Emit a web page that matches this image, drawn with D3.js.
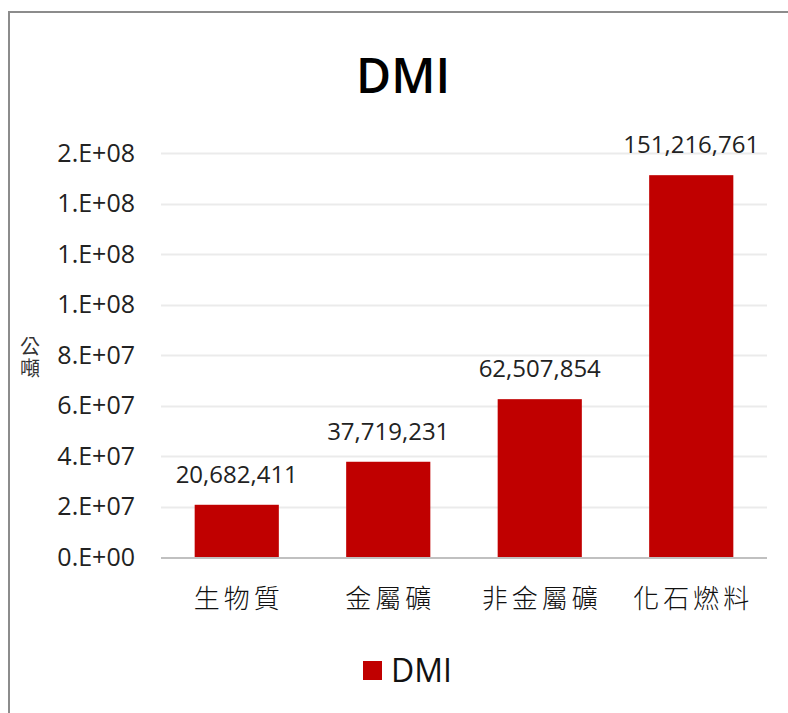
<!DOCTYPE html>
<html>
<head>
<meta charset="utf-8">
<script src="https://cdn.jsdelivr.net/npm/d3@7"></script>
<style>
    body { margin: 0; background: #fff; }
    svg { display: block; }
</style>
</head>
<body>
<div id="chart"></div>
<script>
const categories = ['生物質', '金屬礦', '非金屬礦', '化石燃料'];
const dmiValues = [20682411, 37719231, 62507854, 151216761];
const yTicks = [0, 2e7, 4e7, 6e7, 8e7, 1e8, 1.2e8, 1.4e8, 1.6e8];
const seriesName = 'DMI';
const chartTitle = 'DMI';
const yLabel = '公噸';

const width = 788, height = 713;
const margin = { top: 153, right: 21, bottom: 156, left: 161 };
const barColor = '#c00000';
const latinFont = '"Open Sans", "Noto Sans", sans-serif';

const svg = d3.select('#chart')
    .append('svg')
    .attr('width', width)
    .attr('height', height);

// outer frame (runs past right/bottom edge like the screenshot)
svg.append('rect')
    .attr('x', 9).attr('y', 12)
    .attr('width', width + 20).attr('height', height + 20)
    .attr('fill', 'none')
    .attr('stroke', '#8c8c8c')
    .attr('stroke-width', 2);

const x = d3.scaleBand()
    .domain(categories)
    .range([margin.left, width - margin.right])
    .paddingInner(0.8 / 1.8)
    .paddingOuter(0.4 / 1.8);

const y = d3.scaleLinear()
    .domain([0, 1.6e8])
    .range([height - margin.bottom, margin.top]);

// excel-ish "0.E+00" format (one significant digit)
const fmtExp = v => {
    const e = v === 0 ? 0 : Math.floor(Math.log10(v));
    let m = Math.round(v / Math.pow(10, e)), ee = e;
    if (m >= 10) { m = 1; ee = e + 1; }
    return m + '.E' + (ee < 0 ? '-' : '+') + String(Math.abs(ee)).padStart(2, '0');
};

// gridlines
svg.append('g')
    .selectAll('line')
    .data(yTicks.slice(1))
    .join('line')
    .attr('x1', margin.left).attr('x2', width - margin.right)
    .attr('y1', d => Math.round(y(d)) + 0.5).attr('y2', d => Math.round(y(d)) + 0.5)
    .attr('stroke', '#ebebeb')
    .attr('stroke-width', 2);

// y axis labels
const yAxis = d3.axisLeft(y)
    .tickValues(yTicks)
    .tickFormat(fmtExp)
    .tickSize(0)
    .tickPadding(26);

svg.append('g')
    .attr('transform', `translate(${margin.left},0)`)
    .call(yAxis)
    .call(g => g.select('.domain').remove())
    .selectAll('text')
    .attr('font-family', latinFont)
    .attr('font-size', 25)
    .attr('fill', '#222');

// bars
svg.append('g')
    .selectAll('rect')
    .data(dmiValues)
    .join('rect')
    .attr('x', (d, i) => x(categories[i]))
    .attr('y', d => y(d))
    .attr('width', x.bandwidth())
    .attr('height', d => y(0) - y(d))
    .attr('fill', barColor);

// value labels
svg.append('g')
    .selectAll('text')
    .data(dmiValues)
    .join('text')
    .attr('x', (d, i) => x(categories[i]) + x.bandwidth() / 2)
    .attr('y', d => y(d) - 22)
    .attr('text-anchor', 'middle')
    .attr('font-family', latinFont)
    .attr('font-size', 24)
    .attr('fill', '#222')
    .text(d => d3.format(',')(d));

// x axis line
svg.append('line')
    .attr('x1', margin.left).attr('x2', width - margin.right)
    .attr('y1', y(0) + 1).attr('y2', y(0) + 1)
    .attr('stroke', '#c0c0c0')
    .attr('stroke-width', 2);

// category labels
svg.append('g')
    .selectAll('text')
    .data(categories)
    .join('text')
    .attr('x', d => x(d) + x.bandwidth() / 2 + 2)
    .attr('y', y(0) + 51)
    .attr('text-anchor', 'middle')
    .attr('font-family', '"Noto Sans CJK TC", sans-serif')
    .attr('font-size', 26)
    .attr('font-weight', 300)
    .attr('letter-spacing', 4)
    .attr('fill', '#111')
    .text(d => d);

// title
svg.append('text')
    .attr('x', 403)
    .attr('y', 93)
    .attr('text-anchor', 'middle')
    .attr('font-family', latinFont)
    .attr('font-size', 48)
    .attr('font-weight', 600)
    .attr('fill', '#000')
    .text(chartTitle);

// y label, vertical text
svg.append('text')
    .attr('x', 30)
    .attr('y', 336)
    .style('writing-mode', 'vertical-rl')
    .style('text-orientation', 'upright')
    .attr('font-family', '"Noto Sans CJK TC", sans-serif')
    .attr('font-size', 20)
    .attr('letter-spacing', 2)
    .attr('fill', '#333')
    .text(yLabel);

// legend
const legend = svg.append('g').attr('transform', 'translate(363,661)');
legend.append('rect')
    .attr('width', 19).attr('height', 19)
    .attr('fill', barColor);
legend.append('text')
    .attr('x', 28).attr('y', 21)
    .attr('font-family', latinFont)
    .attr('font-size', 32)
    .attr('fill', '#111')
    .text(seriesName);
</script>
</body>
</html>
